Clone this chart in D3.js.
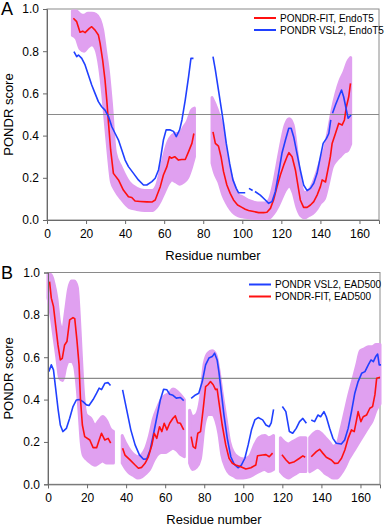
<!DOCTYPE html>
<html>
<head>
<meta charset="utf-8">
<script src="https://cdn.jsdelivr.net/npm/d3@7"></script>
<style>
  body { margin: 0; background: #fff; }
  svg { font-family: "Liberation Sans", Arial, sans-serif; }
</style>
</head>
<body>
<svg id="chart" width="386" height="527"></svg>
<script>
// residue number, score  (null = gap in prediction)
var fitA = [[13.5,.956],[15.2,.94],[16.9,.89],[18.3,.895],[19.5,.888],[21.7,.908],[22.9,.916],[24.6,.90],[26.3,.877],[27.2,.837],[28.5,.758],[29.7,.664],[30.6,.569],[31.5,.458],[32.6,.332],[34,.221],[36.6,.19],[39.1,.142],[41.7,.11],[43.4,.107],[45.1,.09],[47.7,.088],[51.1,.086],[53.7,.085],[55.4,.095],[58,.158],[59.6,.213],[61.4,.253],[62.7,.30],[63.6,.293],[65.4,.30],[67.3,.284],[69,.287],[70.8,.287],[72.5,.324],[74.2,.363],[75.2,.41],[80,null],
  [85,.418],[86.2,.363],[87.8,.35],[89.1,.30],[90.4,.229],[92.1,.166],[93.8,.126],[95.5,.095],[97.6,.071],[99.8,.06],[101.5,.051],[103.2,.045],[105.8,.04],[108.4,.035],[110.9,.035],[112.6,.037],[114.4,.055],[116,.095],[117.8,.158],[119.5,.213],[121.2,.26],[122.9,.30],[123.9,.319],[125.5,.30],[127.2,.237],[128.6,.158],[129.7,.095],[131.4,.06],[133.2,.06],[134.9,.071],[136.6,.087],[138.3,.118],[140,.158],[140.9,.19],[142.6,.18],[144.3,.26],[145.1,.30],[146,.363],[147.7,.41],[149.4,.458],[151.1,.45],[152.3,.474],[153.3,.537],[154.5,.584],[155.4,.648]];

var vslA = [[13.8,.798],[15.2,.774],[16.1,.782],[17.8,.766],[19.5,.735],[21.2,.687],[22.9,.64],[24.6,.60],[26.3,.561],[28,.537],[29.7,.521],[31.5,.49],[33.2,.442],[34.9,.41],[36.6,.379],[38.3,.332],[40,.284],[41.7,.253],[44.3,.221],[46.8,.19],[49.4,.166],[51.1,.166],[53.7,.182],[55.4,.198],[57.1,.237],[58,.284],[59.6,.379],[61,.427],[63.1,.427],[64.8,.42],[66.2,.395],[67.9,.427],[69.1,.474],[70.8,.569],[72.5,.679],[73.7,.766],[75,.766],[80,null],
  [85,.774],[86.2,.711],[87.8,.616],[89.1,.537],[90.4,.458],[91.8,.363],[93.5,.269],[95.2,.19],[96.9,.15],[98.1,.129],[101.5,.129],[102.5,null],[103.4,.15],[105.3,.14],[106,null],[106.5,.135],[109.2,.118],[111.8,.095],[113.5,.079],[115.2,.087],[116.9,.134],[118.6,.221],[120.3,.316],[122.1,.379],[123.8,.435],[125,.435],[126.3,.395],[128,.316],[129.7,.237],[131.4,.166],[133.2,.139],[134.9,.15],[136.6,.174],[138.3,.221],[140,.30],[141.4,.363],[143.1,.387],[144.3,.41],[145.3,.474],[145.7,null],
  [146.2,.506],[147.7,.545],[149.4,.584],[150.8,.616],[151.9,.584],[153.3,.521],[154.2,.482],[155.7,.498]];

// residue number, band low, band high
var bandA = [[13,.875,.99],[15,.86,.99],[17,.81,.975],[19,.80,.97],[21,.82,.98],[23,.83,.98],[25,.81,.975],[27,.72,.95],[28.5,.60,.90],[30,.45,.80],[31.5,.30,.70],[33,.18,.55],[35,.14,.32],[38,.10,.25],[42,.06,.18],[46,.05,.15],[50,.045,.14],[54,.045,.14],[56,.06,.16],[58,.09,.23],[60,.13,.31],[62,.17,.37],[64,.19,.40],[66,.18,.41],[68,.17,.41],[70,.18,.44],[72,.20,.47],[74,.25,.52],[75.5,.30,.53],[80,null,null],
  [84.5,.27,.58],[86,.22,.55],[88,.18,.50],[90,.12,.43],[92,.08,.30],[94,.05,.22],[96,.03,.16],[98,.02,.12],[100,.015,.11],[104,.01,.09],[108,.005,.08],[112,.005,.08],[114,.01,.10],[116,.03,.17],[118,.06,.27],[120,.10,.37],[122,.14,.45],[124,.16,.48],[126,.13,.45],[128,.06,.32],[130,.02,.17],[132,.01,.13],[134,.02,.14],[136,.03,.17],[138,.05,.22],[140,.08,.28],[142,.10,.33],[144,.17,.42],[146,.25,.52],[148,.28,.60],[150,.30,.66],[152,.32,.70],[154,.33,.75],[155.5,.36,.77]];

var fitB = [[0.8,.957],[1.7,.879],[2.8,.84],[3.9,.753],[5.1,.658],[6.3,.587],[7.3,.595],[8.5,.658],[9.7,.674],[11.1,.776],[12.8,.787],[13.7,.782],[14.8,.682],[15.9,.564],[16.6,.406],[17.6,.28],[18.8,.225],[21.4,.209],[23.1,.173],[24.9,.173],[26.2,.209],[27.4,.241],[29.1,.209],[30.8,.217],[32.1,.194],[35,null],
  [38.2,.17],[39.4,.138],[42,.115],[44.6,.091],[46.3,.076],[48,.08],[49.7,.099],[51.4,.13],[53.2,.186],[54.4,.241],[55.7,.217],[57.1,.272],[58.3,.249],[59.5,.288],[60.9,.257],[62.3,.288],[64,.312],[65.2,.323],[66.4,.291],[67.8,.288],[69.5,.257],[71,null],
  [73.3,.225],[74.3,.178],[75.5,.17],[76.7,.241],[78.1,.249],[79.5,.359],[80.7,.461],[81.9,.47],[83.2,.485],[84.6,.47],[85.8,.447],[86.6,.45],[87.5,.39],[89.2,.28],[91,.186],[92.7,.123],[94.4,.099],[96.1,.091],[98.7,.083],[101.3,.072],[103.9,.078],[106.4,.091],[107.3,.135],[109.9,.138],[111.6,.14],[113.3,.13],[115,.147],[117,null],
  [119.8,.14],[121.9,.115],[123.6,.099],[126.2,.107],[128.8,.123],[130.5,.134],[131.7,.128],[133,null],
  [134.8,.13],[137.4,.154],[139.1,.165],[140.8,.146],[142.5,.128],[145.1,.115],[146.8,.099],[148.5,.10],[150.3,.123],[152,.162],[153.7,.217],[155.4,.257],[156.8,.249],[158,.304],[158.8,.343],[160.2,.296],[161.4,.319],[163.1,.327],[164.8,.359],[166.2,.367],[167.4,.423],[168.3,.501],[170,.505]];

var vslB = [[0.4,.532],[1.7,.564],[2.8,.54],[3.9,.454],[5.1,.359],[6.3,.28],[7.6,.249],[9.4,.264],[11.1,.312],[12.8,.367],[14.5,.398],[16.2,.40],[17.9,.39],[19.7,.375],[21,.372],[23.1,.40],[24.9,.43],[26.2,.454],[27.4,.447],[29.1,.477],[30.8,.48],[32,.466],[35,null],
  [38.2,.446],[40.3,.351],[42.4,.257],[44.6,.186],[46.8,.139],[48.9,.118],[50.6,.12],[52.3,.162],[54.1,.241],[55.8,.32],[57.5,.398],[59.2,.449],[60.9,.446],[62.3,.425],[64,.42],[65.7,.407],[67.8,.41],[69.5,.395],[71,null],
  [73.3,.406],[75.5,.422],[77.2,.43],[79,.485],[80.7,.564],[82.4,.596],[84.1,.603],[85.3,.619],[86.6,.587],[87.5,.532],[88.7,.438],[90.1,.327],[91.8,.217],[93.6,.13],[95.3,.095],[97.3,.078],[99,.091],[100.8,.123],[102.5,.186],[104.2,.257],[105.9,.304],[107.6,.315],[109.9,.304],[111.6,.28],[113.3,.272],[114.3,.29],[115.5,.354],[117,null],
  [120,.367],[121.8,.343],[123.6,.249],[125.3,.241],[127.1,.264],[128.8,.296],[130.5,.311],[132.3,.288],[133.5,null],
  [134.8,.304],[136.5,.296],[138.2,.327],[139.6,.319],[141.3,.343],[142.5,.319],[144.2,.265],[145.9,.217],[147.6,.194],[150.2,.19],[151.9,.209],[153.7,.264],[155.4,.343],[157.1,.43],[158.8,.485],[160.6,.524],[162.3,.532],[164,.564],[165.4,.587],[166.6,.579],[167.8,.603],[168.8,.615],[169.6,.564],[170.5,.564]];

var bandB = [[0,.88,.99],[1.5,.80,.99],[3,.70,.95],[4.5,.60,.88],[6,.50,.76],[7.5,.49,.73],[9,.55,.82],[10.5,.58,.92],[12,.58,.96],[13.5,.56,.96],[15,.45,.93],[16,.33,.80],[17,.20,.62],[18,.14,.45],[19.5,.12,.33],[22,.10,.31],[24,.09,.28],[26,.10,.30],[28,.11,.32],[30,.10,.30],[32,.10,.26],[33.5,.10,.25],[35,null,null],
  [38,.10,.23],[40,.07,.19],[42,.05,.16],[44,.04,.14],[46,.03,.13],[48,.035,.14],[50,.05,.17],[52,.07,.23],[54,.11,.31],[56,.14,.36],[58,.15,.40],[60,.15,.42],[62,.16,.43],[64,.17,.45],[66,.16,.44],[68,.14,.42],[69.8,.13,.40],[71,null,null],
  [72.5,.10,.35],[74,.07,.32],[76,.08,.33],[78,.12,.40],[80,.28,.57],[82,.33,.62],[84,.33,.63],[86,.30,.61],[87.5,.24,.54],[89,.14,.44],[91,.08,.32],[93,.05,.20],[95,.04,.15],[97,.03,.13],[100,.03,.12],[103,.035,.13],[106,.05,.19],[108,.06,.22],[111,.07,.23],[113,.06,.22],[115.5,.07,.23],[117,null,null],
  [119,.06,.22],[121,.04,.20],[123,.03,.19],[125,.04,.20],[127,.05,.21],[129,.06,.22],[132,.06,.22],[133.5,null,null],
  [134,.06,.22],[136,.07,.24],[138,.08,.25],[140,.07,.24],[142,.05,.22],[144,.04,.20],[146,.03,.18],[148,.03,.19],[150,.05,.26],[152,.08,.34],[154,.12,.42],[156,.15,.49],[158,.18,.56],[160,.21,.63],[162,.24,.64],[164,.27,.65],[166,.30,.65],[168,.35,.66],[170,.38,.66]];

var yTicks = [0, 0.2, 0.4, 0.6, 0.8, 1.0];
var xTicks = [0, 20, 40, 60, 80, 100, 120, 140, 160];

var svg = d3.select('#chart');

function drawPanel(opt) {
  var x = d3.scaleLinear().domain([0, 170]).range([opt.left, opt.right]);
  var y = d3.scaleLinear().domain([0, 1]).range([opt.bottom, opt.top]);
  var g = svg.append('g');

  // frame
  g.append('rect')
      .attr('x', opt.left).attr('y', opt.top)
      .attr('width', opt.right - opt.left).attr('height', opt.bottom - opt.top)
      .attr('fill', 'none').attr('stroke', '#8a8a8a').attr('stroke-width', 1);

  // magenta band
  var area = d3.area()
      .defined(function(d) { return d[1] != null; })
      .x(function(d) { return x(d[0]); })
      .y0(function(d) { return y(d[1]); })
      .y1(function(d) { return y(d[2]); })
      .curve(d3.curveMonotoneX);
  g.append('path').datum(opt.band)
      .attr('d', area)
      .attr('fill', '#e0a0f0')
      .attr('stroke', '#e0a0f0').attr('stroke-width', 3).attr('stroke-linejoin', 'round');

  // 0.5 threshold
  g.append('line')
      .attr('x1', opt.left).attr('x2', opt.right)
      .attr('y1', y(0.5)).attr('y2', y(0.5))
      .attr('stroke', '#8a8a8a').attr('stroke-width', 1.2);

  var line = d3.line()
      .defined(function(d) { return d[1] != null; })
      .x(function(d) { return x(d[0]); })
      .y(function(d) { return y(d[1]); });

  opt.series.forEach(function(s) {
    g.append('path').datum(s.data)
        .attr('d', line)
        .attr('fill', 'none')
        .attr('stroke', s.color)
        .attr('stroke-width', 1.6)
        .attr('stroke-linejoin', 'round');
  });

  // axes
  var ya = g.append('g')
      .attr('transform', 'translate(' + opt.left + ',0)')
      .call(d3.axisLeft(y).tickValues(yTicks).tickFormat(d3.format('.1f')).tickSize(4).tickPadding(4));
  var xa = g.append('g')
      .attr('transform', 'translate(0,' + opt.bottom + ')')
      .call(d3.axisBottom(x).tickValues(xTicks).tickSize(4).tickPadding(5));
  [ya, xa].forEach(function(a) {
    a.selectAll('path, line').attr('stroke', '#6a6a6a');
    a.selectAll('text').attr('font-size', 12).attr('fill', '#000')
        .attr('font-family', '"Liberation Sans", Arial, sans-serif');
  });

  // titles
  g.append('text')
      .attr('x', (opt.left + opt.right) / 2).attr('y', opt.bottom + 40)
      .attr('text-anchor', 'middle').attr('font-size', 13)
      .text('Residue number');
  g.append('text')
      .attr('transform', 'translate(13,' + ((opt.top + opt.bottom) / 2) + ') rotate(-90)')
      .attr('text-anchor', 'middle').attr('font-size', 13)
      .text('PONDR score');
  g.append('text')
      .attr('x', 1).attr('y', opt.top + 6)
      .attr('font-size', 18)
      .text(opt.letter);

  // legend
  opt.series.forEach(function(s, i) {
    var ly = opt.legendY + i * 12;
    g.append('line')
        .attr('x1', opt.legendX).attr('x2', opt.legendX + 22)
        .attr('y1', ly).attr('y2', ly)
        .attr('stroke', s.color).attr('stroke-width', 2);
    g.append('text')
        .attr('x', opt.legendX + 26).attr('y', ly + 3.5)
        .attr('font-size', 10)
        .text(s.name);
  });
}

drawPanel({
  letter: 'A', left: 47, right: 379, top: 9, bottom: 220,
  band: bandA, legendX: 254, legendY: 18,
  series: [
    { name: 'PONDR-FIT, EndoT5', color: '#ff1010', data: fitA },
    { name: 'PONDR VSL2, EndoT5', color: '#2040ff', data: vslA }
  ]
});

drawPanel({
  letter: 'B', left: 48, right: 380, top: 272.5, bottom: 484.3,
  band: bandB, legendX: 249, legendY: 284.5,
  series: [
    { name: 'PONDR VSL2, EAD500', color: '#2040ff', data: vslB },
    { name: 'PONDR-FIT, EAD500', color: '#ff1010', data: fitB }
  ]
});
</script>
</body>
</html>
